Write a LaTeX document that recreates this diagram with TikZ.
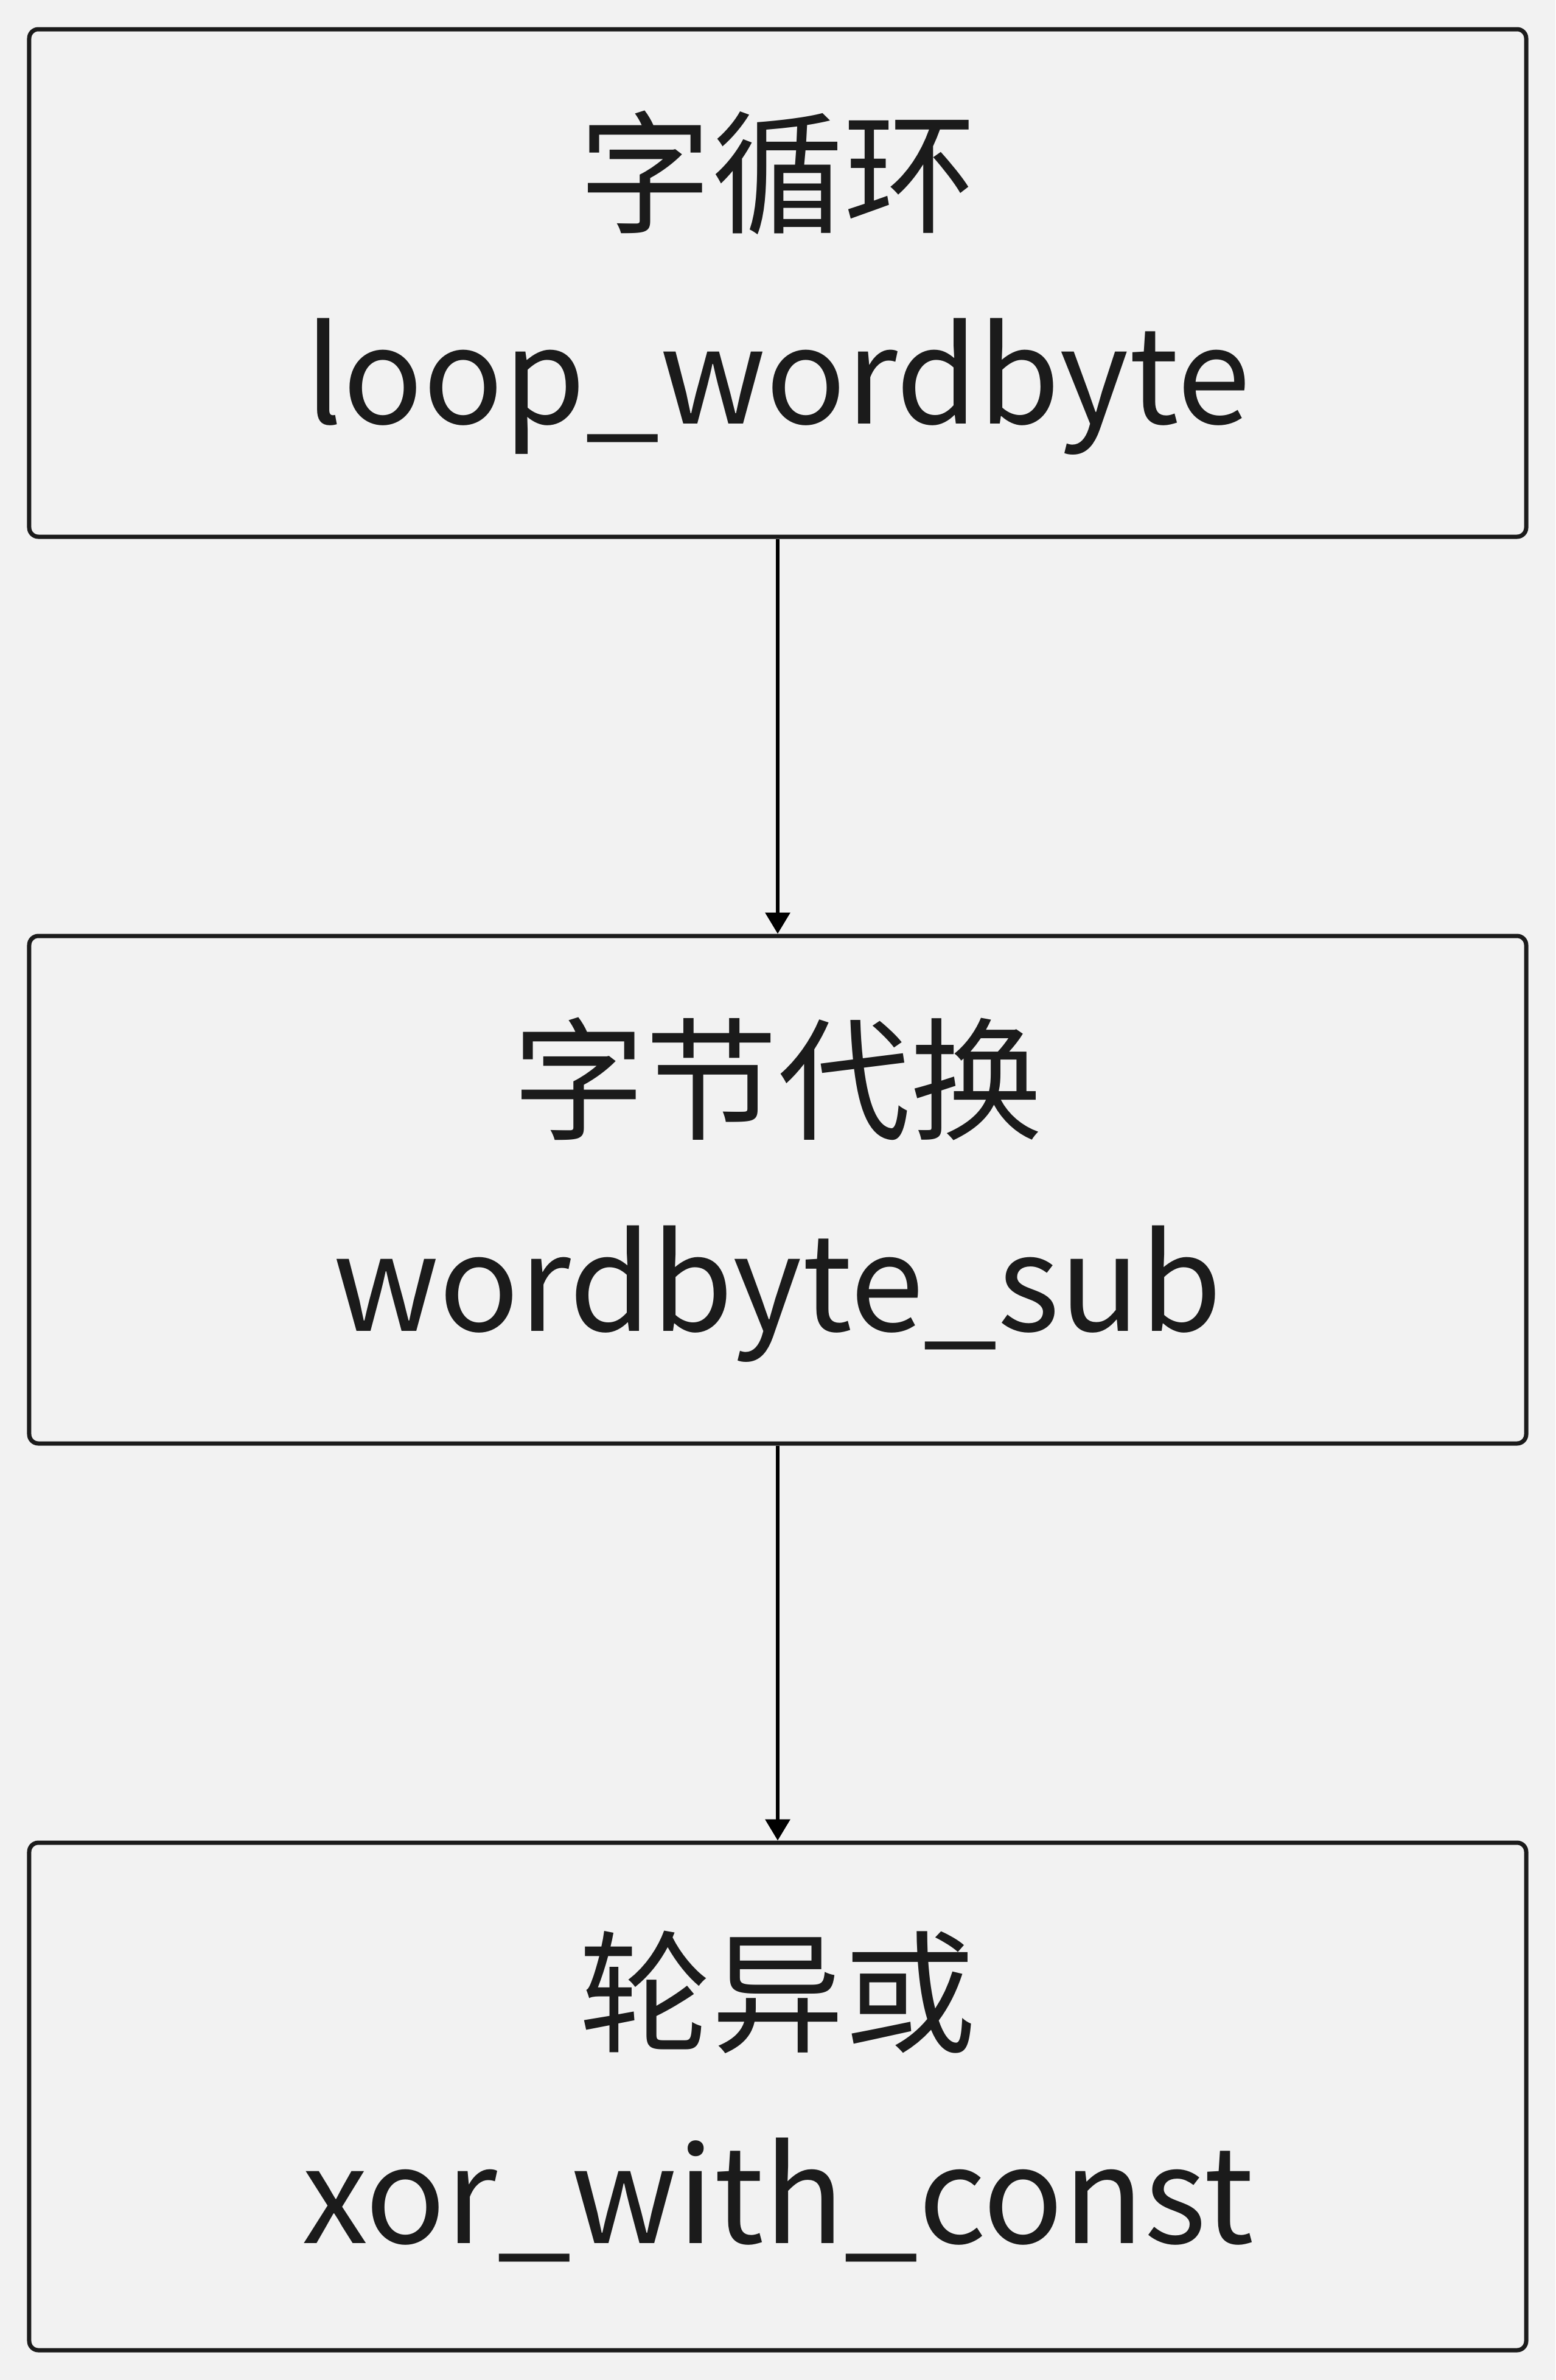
\documentclass[tikz,border=0pt]{standalone}
\usepackage{fontspec}
\setmainfont{Noto Sans CJK SC}
\usetikzlibrary{positioning, arrows.meta}
\definecolor{pagegray}{HTML}{F2F2F2}
\definecolor{inkblack}{HTML}{1B1B1B}

\begin{document}
\begin{tikzpicture}[
  >={Triangle[length=0.35cm, width=0.40cm]},
  font=\fontsize{62}{94}\selectfont,
  box/.style={draw=inkblack, line width=0.07cm, rounded corners=0.15cm,
    minimum width=24.6cm, minimum height=8.34cm, align=center,
    text=inkblack, inner sep=0pt},
  arr/.style={->, line width=0.067cm, black}
]
\fill[pagegray] (0,0) rectangle (25.56,-39.11);
\useasboundingbox (0,0) rectangle (25.56,-39.11);
\node[box] (loop) at (12.78,-4.65) {字循环\\loop\_wordbyte};
\node[box, below=6.49cm of loop] (sub) {字节代换\\wordbyte\_sub};
\node[box, below=6.49cm of sub] (xor) {轮异或\\xor\_with\_const};
\draw[arr] (loop) -- (sub);
\draw[arr] (sub) -- (xor);
\end{tikzpicture}
\end{document}
